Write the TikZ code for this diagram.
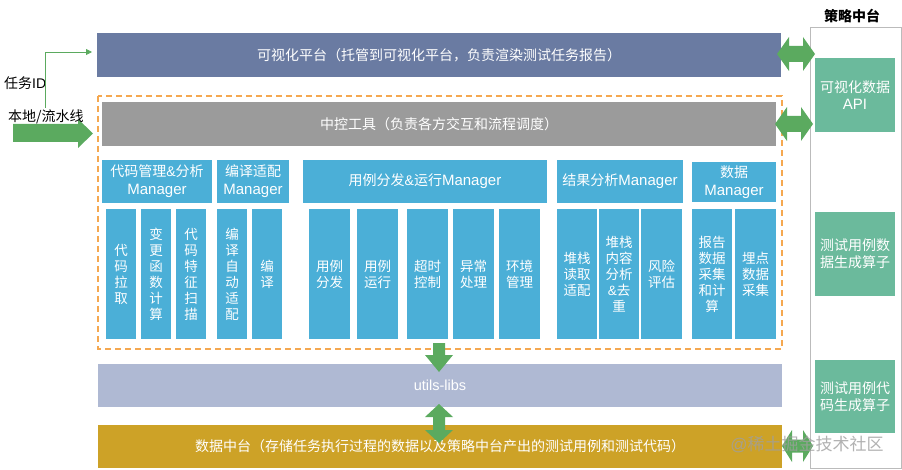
\documentclass[tikz,border=0pt]{standalone}
\usepackage{fontspec}
\setmainfont{Noto Sans CJK SC}
\newfontfamily\lat{Liberation Sans}
\usetikzlibrary{arrows.meta}
\definecolor{visblue}{HTML}{6A7BA2}
\definecolor{ctrlgray}{HTML}{9B9B9B}
\definecolor{mblue}{HTML}{4BAFD7}
\definecolor{utilc}{HTML}{AFB9D3}
\definecolor{datac}{HTML}{CDA227}
\definecolor{gbox}{HTML}{6BBA9C}
\definecolor{agreen}{HTML}{5BAA5F}
\definecolor{dorange}{HTML}{F5A850}
\definecolor{pborder}{HTML}{BBBBBB}
\newcommand\bx[7]{\node[#6, minimum width={(#4)-(#2)}, minimum height={(#5)-(#3)}] (#1) at ({((#2)+(#4))/2},{((#3)+(#5))/2}) {#7};}
\newcommand\hdarrow[6]{\fill[agreen] (#1,#3) -- ({#1+#6},{#3-#5}) -- ({#1+#6},{#3-#4}) -- ({#2-#6},{#3-#4}) -- ({#2-#6},{#3-#5}) -- (#2,#3) -- ({#2-#6},{#3+#5}) -- ({#2-#6},{#3+#4}) -- ({#1+#6},{#3+#4}) -- ({#1+#6},{#3+#5}) -- cycle;}
\newcommand\mgrw{{\lat\fontsize{15}{18}\selectfont Manager}}
\tikzset{
  bar/.style={rectangle, inner sep=0pt, outer sep=0pt, text=white, font=\fontsize{14}{16}\selectfont},
  mgr/.style={rectangle, fill=mblue, inner sep=0pt, outer sep=0pt, text=white, align=center, font=\fontsize{14}{18}\selectfont},
  sub/.style={rectangle, fill=mblue, inner sep=0pt, outer sep=0pt, text=white, align=center, font=\fontsize{13.5}{16}\selectfont},
  gb/.style={rectangle, fill=gbox, inner sep=0pt, outer sep=0pt, text=white, align=center, font=\fontsize{14}{17}\selectfont},
  lbl/.style={inner sep=0pt, text=black, font=\fontsize{14}{16}\selectfont},
}
\begin{document}
\begin{tikzpicture}[x=1pt,y=-1pt]
\useasboundingbox (0,0) rectangle (902,470);
% right panel
\bx{panel}{810}{28}{901}{468}{draw=pborder, line width=1pt, fill=white, inner sep=0pt}{}
\node[lbl, font=\fontsize{14}{16}\selectfont\bfseries] (pt) at (852,16) {策略中台};
\bx{g1}{815}{58}{895}{132}{gb}{可视化数据\\{\lat\fontsize{15}{17}\selectfont API}}
\bx{g2}{815}{212}{895}{296}{gb}{测试用例数\\据生成算子}
\bx{g3}{815}{360}{895}{433}{gb}{测试用例代\\码生成算子}
% top bars
\bx{vis}{97}{33}{781}{77}{bar, fill=visblue}{可视化平台（托管到可视化平台，负责渲染测试任务报告）}
\draw[dorange, line width=1.5pt, dash pattern=on 6pt off 4pt] (98,96) rectangle (782,349);
\bx{ctrl}{102}{102}{776}{146}{bar, fill=ctrlgray}{中控工具（负责各方交互和流程调度）}
% managers
\bx{m1}{102}{160}{212}{203}{mgr}{代码管理{\lat\&}分析\\\mgrw}
\bx{m2}{217}{160}{289}{203}{mgr}{编译适配\\\mgrw}
\bx{m3}{303}{160}{547}{203}{mgr}{用例分发{\lat\&}运行\mgrw}
\bx{m4}{557}{160}{683}{203}{mgr}{结果分析\mgrw}
\bx{m5}{692}{162}{776}{202}{mgr}{数据\\\mgrw}
% sub boxes
\bx{s1}{106}{209}{136}{339}{sub}{代\\码\\拉\\取}
\bx{s2}{141}{209}{171}{339}{sub}{变\\更\\函\\数\\计\\算}
\bx{s3}{176}{209}{206}{339}{sub}{代\\码\\特\\征\\扫\\描}
\bx{s4}{217}{209}{247}{339}{sub}{编\\译\\自\\动\\适\\配}
\bx{s5}{252}{209}{282}{339}{sub}{编\\译}
\bx{s6}{309}{209}{350}{339}{sub}{用例\\分发}
\bx{s7}{357}{209}{398}{339}{sub}{用例\\运行}
\bx{s8}{407}{209}{448}{339}{sub}{超时\\控制}
\bx{s9}{453}{209}{494}{339}{sub}{异常\\处理}
\bx{s10}{499}{209}{540}{339}{sub}{环境\\管理}
\bx{s11}{557}{209}{597}{339}{sub}{堆栈\\读取\\适配}
\bx{s12}{599}{209}{639}{339}{sub}{堆栈\\内容\\分析\\{\lat\&}去\\重}
\bx{s13}{641}{209}{682}{339}{sub}{风险\\评估}
\bx{s14}{692}{209}{732}{339}{sub}{报告\\数据\\采集\\和计\\算}
\bx{s15}{735}{209}{776}{339}{sub}{埋点\\数据\\采集}
% bottom bars
\bx{utils}{98}{364}{782}{407}{bar, fill=utilc, font=\lat\fontsize{14.5}{16}\selectfont}{utils-libs}
\bx{data}{98}{425}{782}{468}{bar, fill=datac}{数据中台（存储任务执行过程的数据以及策略中台产出的测试用例和测试代码）}
% block arrows
\hdarrow{777}{815}{54}{8}{17}{12}
\hdarrow{775}{813}{124}{8}{17}{12}
\hdarrow{782}{813}{446}{6.5}{16}{10}
\fill[agreen] (433,343) -- (445,343) -- (445,355) -- (453,355) -- (439,372) -- (425,355) -- (433,355) -- cycle;
\fill[agreen] (439,404) -- (453,417) -- (445,417) -- (445,430) -- (453,430) -- (439,443) -- (425,430) -- (433,430) -- (433,417) -- (425,417) -- cycle;
% left inputs
\fill[agreen] (13,124) -- (78,124) -- (78,119) -- (93,133.5) -- (78,148) -- (78,142) -- (13,142) -- cycle;
\node[lbl, anchor=west] (tid) at (4,83) {任务{\lat ID}};
\node[lbl, anchor=west] (loc) at (8,117) {本地/流水线};
\coordinate (tstart) at (45,108);
\coordinate (tend) at (92,52);
\draw[agreen, line width=0.8pt, -{Triangle[length=6pt,width=6pt]}] (tstart) |- (tend);
% watermark
\node[inner sep=0pt, text=gray!75, opacity=0.8, font=\fontsize{17}{17}\selectfont] (wm) at (807,444) {{\lat @}稀土掘金技术社区};
\end{tikzpicture}
\end{document}
